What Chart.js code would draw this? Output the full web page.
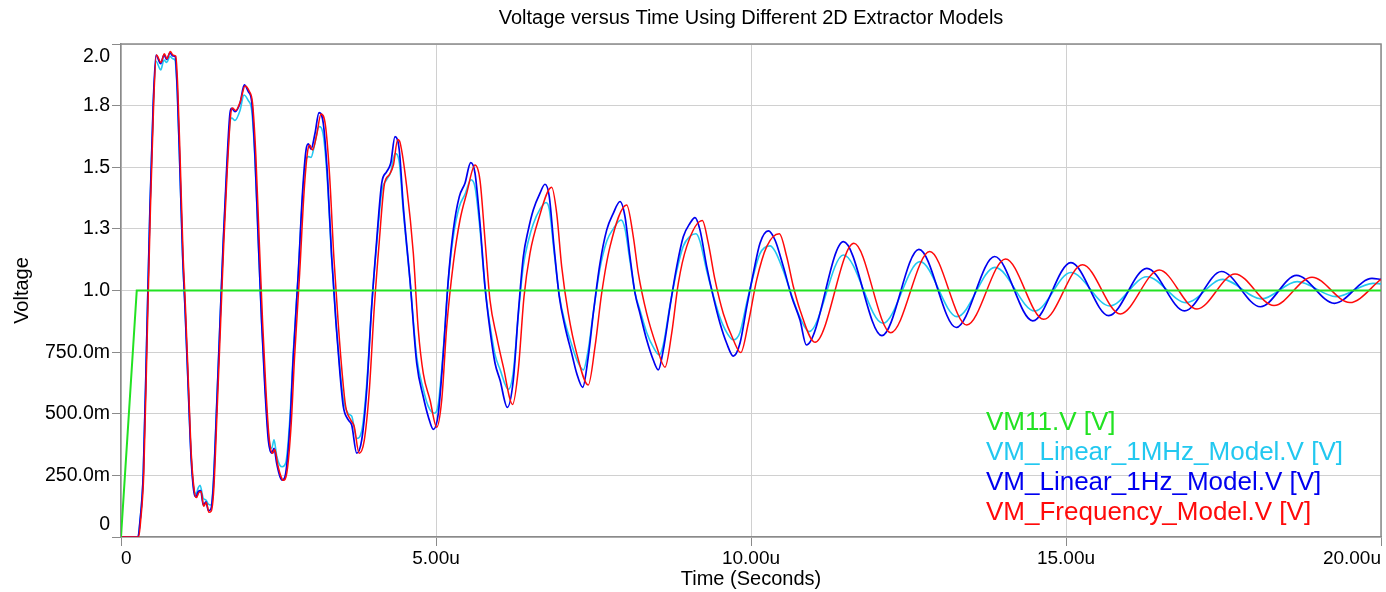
<!DOCTYPE html>
<html>
<head>
<meta charset="utf-8">
<title>Voltage versus Time Using Different 2D Extractor Models</title>
<script src="https://cdn.jsdelivr.net/npm/chart.js@4.4.1/dist/chart.umd.min.js"></script>
<style>
  html, body { margin: 0; padding: 0; background: #fff; }
  #wrap { width: 1386px; height: 592px; }
</style>
</head>
<body>
<div id="wrap"><canvas id="chart" width="1386" height="592"></canvas></div>
<script>
/* ===============================
   DATA  (time in microseconds, voltage in V)
================================ */

const seriesNames = [
  "VM11.V [V]",
  "VM_Linear_1MHz_Model.V [V]",
  "VM_Linear_1Hz_Model.V [V]",
  "VM_Frequency_Model.V [V]"
];

const xTicks = [0, 5, 10, 15, 20];
const xTickLabels = ["0", "5.00u", "10.00u", "15.00u", "20.00u"];
const yTicks = [0, 0.25, 0.5, 0.75, 1.0, 1.25, 1.5, 1.75, 2.0];
const yTickLabels = ["0", "250.0m", "500.0m", "750.0m", "1.0", "1.3", "1.5", "1.8", "2.0"];

// VM11 source step
const tSource = [0, 0.25, 20];
const vSource = [0, 1.0, 1.0];

// Linear 1Hz model
const tLin1Hz = [
  0, 0.27, 0.30, 0.354, 0.408, 0.46, 0.513, 0.556, 0.63, 0.683, 0.725, 0.778, 0.821, 0.857,
  0.894, 0.937, 0.979, 1.016, 1.068, 1.111, 1.159, 1.19, 1.227, 1.265, 1.306, 1.349, 1.386, 1.424,
  1.465, 1.519, 1.571, 1.624, 1.678, 1.73, 1.757, 1.81, 1.889, 1.957, 2.021, 2.075, 2.127, 2.179,
  2.233, 2.286, 2.338, 2.392, 2.429, 2.471, 2.524, 2.56, 2.614, 2.683, 2.735, 2.814, 2.884, 2.937,
  2.973, 3.016, 3.079, 3.143, 3.211, 3.275, 3.344, 3.413, 3.476, 3.529, 3.608, 3.662, 3.741, 3.821,
  3.9, 3.979, 4.059, 4.138, 4.217, 4.281, 4.349, 4.417, 4.481, 4.587, 4.694, 4.798, 4.878, 4.957,
  5.037, 5.116, 5.195, 5.275, 5.37, 5.46, 5.551, 5.619, 5.698, 5.778, 5.857, 5.937, 6.016, 6.132,
  6.227, 6.306, 6.386, 6.465, 6.544, 6.651, 6.73, 6.798, 6.873, 6.957, 7.048, 7.154, 7.233, 7.329,
  7.417, 7.497, 7.603, 7.71, 7.814, 7.921, 8.0, 8.079, 8.159, 8.238, 8.344, 8.449, 8.529, 8.608,
  8.714, 8.821, 8.925, 9.032, 9.111, 9.19, 9.297, 9.401, 9.508, 9.614, 9.719, 9.825, 9.932, 10.037,
  10.143, 10.275, 10.381, 10.513, 10.646, 10.778, 10.879, 11.467, 12.078, 12.665, 13.257, 13.868,
  14.473, 15.078, 15.678, 16.283, 16.881, 17.468, 18.086, 18.659, 19.259, 19.857, 20
];
const vLin1Hz = [
  0, 0, 0.06, 0.26, 0.80, 1.34, 1.77, 1.955, 1.92, 1.956, 1.938, 1.965, 1.952, 1.95,
  1.81, 1.48, 1.14, 0.93, 0.60, 0.33, 0.18, 0.163, 0.184, 0.188, 0.13, 0.143, 0.107, 0.112,
  0.204, 0.53, 0.867, 1.205, 1.50, 1.72, 1.739, 1.726, 1.76, 1.834, 1.807, 1.766, 1.543, 1.205,
  0.867, 0.596, 0.394, 0.34, 0.36, 0.299, 0.245, 0.231, 0.258, 0.461, 0.732, 1.07, 1.408, 1.57,
  1.595, 1.573, 1.637, 1.722, 1.678, 1.476, 1.137, 0.867, 0.663, 0.529, 0.475, 0.454, 0.34, 0.394,
  0.596, 0.934, 1.205, 1.435, 1.482, 1.516, 1.624, 1.57, 1.34, 1.043, 0.705, 0.569, 0.488, 0.437,
  0.502, 0.745, 1.043, 1.246, 1.381, 1.435, 1.519, 1.476, 1.273, 1.016, 0.84, 0.705, 0.637, 0.526,
  0.637, 0.907, 1.137, 1.246, 1.327, 1.395, 1.431, 1.381, 1.178, 0.975, 0.853, 0.745, 0.664, 0.607,
  0.732, 0.907, 1.11, 1.246, 1.313, 1.361, 1.30, 1.137, 0.989, 0.907, 0.80, 0.718, 0.678, 0.759,
  0.934, 1.097, 1.218, 1.273, 1.296, 1.246, 1.097, 0.975, 0.867, 0.786, 0.734, 0.786, 0.934, 1.07,
  1.192, 1.242, 1.205, 1.097, 0.975, 0.88, 0.779, 1.198, 0.817, 1.167, 0.85, 1.138,
  0.877, 1.113, 0.898, 1.09, 0.917, 1.077, 0.934, 1.061, 0.948, 1.049, 1.045
];

// Linear 1MHz model
const tLin1MHz = [
  0, 0.27, 0.30, 0.354, 0.408, 0.46, 0.513, 0.556, 0.63, 0.683, 0.725, 0.778, 0.821, 0.857,
  0.894, 0.937, 0.979, 1.016, 1.068, 1.111, 1.159, 1.19, 1.227, 1.255, 1.306, 1.349, 1.386, 1.424,
  1.465, 1.519, 1.571, 1.624, 1.678, 1.73, 1.757, 1.81, 1.889, 1.952, 2.021, 2.075, 2.127, 2.179,
  2.233, 2.286, 2.338, 2.392, 2.429, 2.471, 2.524, 2.56, 2.614, 2.683, 2.735, 2.814, 2.884, 2.937,
  2.973, 3.016, 3.079, 3.143, 3.211, 3.275, 3.344, 3.413, 3.476, 3.529, 3.608, 3.662, 3.741, 3.821,
  3.9, 3.979, 4.059, 4.138, 4.217, 4.281, 4.349, 4.417, 4.481, 4.587, 4.694, 4.798, 4.878, 4.973,
  5.037, 5.116, 5.195, 5.275, 5.37, 5.46, 5.556, 5.619, 5.698, 5.778, 5.857, 5.937, 6.016, 6.148,
  6.227, 6.306, 6.386, 6.465, 6.544, 6.651, 6.746, 6.798, 6.873, 6.957, 7.048, 7.154, 7.233, 7.338,
  7.417, 7.497, 7.603, 7.71, 7.814, 7.937, 8.0, 8.079, 8.159, 8.238, 8.344, 8.449, 8.544, 8.608,
  8.714, 8.821, 8.925, 9.032, 9.127, 9.19, 9.297, 9.401, 9.508, 9.614, 9.719, 9.825, 9.932, 10.037,
  10.143, 10.302, 10.381, 10.513, 10.646, 10.778, 10.921, 11.467, 12.095, 12.683, 13.27, 13.873,
  14.505, 15.078, 15.695, 16.283, 16.911, 17.486, 18.103, 18.671, 19.289, 19.873, 20
];
const vLin1MHz = [
  0, 0, 0.06, 0.26, 0.80, 1.34, 1.76, 1.93, 1.895, 1.935, 1.925, 1.95, 1.94, 1.935,
  1.80, 1.47, 1.13, 0.93, 0.60, 0.34, 0.19, 0.175, 0.20, 0.21, 0.157, 0.15, 0.134, 0.13,
  0.22, 0.54, 0.87, 1.20, 1.48, 1.68, 1.70, 1.69, 1.73, 1.793, 1.77, 1.73, 1.53, 1.20,
  0.87, 0.61, 0.42, 0.36, 0.394, 0.33, 0.29, 0.285, 0.30, 0.49, 0.75, 1.07, 1.39, 1.53,
  1.543, 1.54, 1.60, 1.665, 1.63, 1.45, 1.13, 0.87, 0.68, 0.56, 0.50, 0.49, 0.40, 0.43,
  0.62, 0.94, 1.19, 1.40, 1.45, 1.48, 1.556, 1.52, 1.32, 1.04, 0.73, 0.60, 0.53, 0.502,
  0.54, 0.76, 1.04, 1.22, 1.34, 1.39, 1.449, 1.42, 1.25, 1.01, 0.86, 0.74, 0.68, 0.599,
  0.67, 0.90, 1.10, 1.20, 1.27, 1.33, 1.357, 1.33, 1.16, 0.98, 0.87, 0.78, 0.72, 0.678,
  0.76, 0.91, 1.09, 1.20, 1.25, 1.286, 1.25, 1.12, 0.99, 0.92, 0.83, 0.77, 0.739, 0.78,
  0.94, 1.08, 1.18, 1.22, 1.23, 1.20, 1.08, 0.98, 0.89, 0.83, 0.80, 0.83, 0.95, 1.06,
  1.15, 1.181, 1.16, 1.08, 0.98, 0.89, 0.833, 1.144, 0.867, 1.117, 0.894, 1.094,
  0.917, 1.073, 0.937, 1.056, 0.951, 1.045, 0.966, 1.036, 0.975, 1.029, 1.027
];

// Frequency model
const tFreq = [
  0, 0.28, 0.31, 0.362, 0.415, 0.468, 0.52, 0.562, 0.635, 0.688, 0.73, 0.783, 0.826, 0.87,
  0.90, 0.943, 0.985, 1.022, 1.074, 1.117, 1.165, 1.198, 1.235, 1.272, 1.312, 1.355, 1.395, 1.432,
  1.472, 1.527, 1.58, 1.633, 1.687, 1.74, 1.768, 1.82, 1.898, 1.968, 2.033, 2.088, 2.14, 2.193,
  2.248, 2.3, 2.352, 2.406, 2.443, 2.486, 2.54, 2.577, 2.632, 2.702, 2.755, 2.836, 2.906, 2.96,
  2.996, 3.04, 3.105, 3.175, 3.245, 3.31, 3.38, 3.45, 3.512, 3.566, 3.646, 3.70, 3.78, 3.86,
  3.94, 4.02, 4.10, 4.18, 4.26, 4.325, 4.392, 4.43, 4.535, 4.64, 4.719, 4.798, 4.905, 5.011,
  5.091, 5.17, 5.275, 5.381, 5.487, 5.619, 5.698, 5.778, 5.857, 5.963, 6.068, 6.216,
  6.306, 6.397, 6.492, 6.624, 6.836, 6.916, 6.995, 7.1, 7.233, 7.417,
  7.524, 7.63, 7.762, 8.027, 8.132, 8.211, 8.344, 8.503, 8.635,
  8.741, 8.846, 8.979, 9.227, 9.322, 9.429, 9.56, 9.719, 9.837,
  9.957, 10.09, 10.249, 10.449, 10.567, 10.672, 10.778, 11.016, 11.633, 12.219, 12.837, 13.424,
  14.041, 14.646, 15.263, 15.862, 16.479, 17.079, 17.683, 18.302, 18.905, 19.505, 20
];
const vFreq = [
  0, 0, 0.06, 0.26, 0.80, 1.34, 1.77, 1.955, 1.925, 1.96, 1.94, 1.97, 1.955, 1.95,
  1.83, 1.50, 1.15, 0.94, 0.60, 0.33, 0.185, 0.16, 0.18, 0.185, 0.125, 0.14, 0.10, 0.105,
  0.19, 0.52, 0.86, 1.20, 1.49, 1.71, 1.74, 1.73, 1.77, 1.83, 1.81, 1.76, 1.55, 1.21,
  0.87, 0.60, 0.40, 0.34, 0.355, 0.295, 0.245, 0.23, 0.26, 0.46, 0.73, 1.07, 1.40, 1.56,
  1.59, 1.57, 1.63, 1.716, 1.67, 1.47, 1.13, 0.86, 0.66, 0.53, 0.475, 0.45, 0.34, 0.39,
  0.59, 0.93, 1.20, 1.43, 1.47, 1.51, 1.613, 1.60, 1.421, 1.151, 0.84, 0.664, 0.556, 0.445,
  0.556, 0.853, 1.11, 1.286, 1.394, 1.509, 1.448, 1.205, 0.961, 0.813, 0.691, 0.538,
  0.678, 0.975, 1.151, 1.286, 1.419, 1.313, 1.097, 0.907, 0.745, 0.617,
  0.772, 0.989, 1.178, 1.347, 1.218, 1.07, 0.907, 0.772, 0.689,
  0.826, 1.029, 1.178, 1.284, 1.192, 1.043, 0.907, 0.80, 0.748,
  0.867, 1.043, 1.178, 1.23, 1.137, 1.016, 0.921, 0.79, 1.192, 0.829, 1.158, 0.86,
  1.128, 0.883, 1.104, 0.905, 1.083, 0.925, 1.067, 0.939, 1.054, 0.951, 1.045
];

const seriesColors = ["#22e222", "#22c8f0", "#0000f0", "#ff0a0a"];

/* ===============================
   HELPERS
================================ */

function toPoints(ts, vs) {
  return ts.map((t, i) => ({ x: t, y: vs[i] }));
}

const FONT = "'Liberation Sans', Arial, sans-serif";
Chart.defaults.font.family = FONT;
Chart.defaults.color = "#000";

// plot frame on top and right side
const framePlugin = {
  id: "frame",
  beforeDatasetsDraw(chart) {
    const { ctx, chartArea: a } = chart;
    ctx.save();
    ctx.strokeStyle = "#8a8a8a";
    ctx.lineWidth = 1.5;
    ctx.beginPath();
    ctx.moveTo(a.left, a.top);
    ctx.lineTo(a.right, a.top);
    ctx.lineTo(a.right, a.bottom);
    ctx.stroke();
    ctx.restore();
  }
};

// coloured text legend inside the plot, bottom right
const textLegend = {
  id: "textLegend",
  afterDatasetsDraw(chart) {
    const { ctx, chartArea: a } = chart;
    ctx.save();
    ctx.font = "26px " + FONT;
    ctx.textAlign = "left";
    ctx.textBaseline = "middle";
    seriesNames.forEach((name, i) => {
      ctx.fillStyle = seriesColors[i];
      ctx.fillText(name, a.left + 865, a.bottom - 114 + i * 30);
    });
    ctx.restore();
  }
};

/* ===============================
   CHART
================================ */

const lineStyle = (label, color, data, order, width, smooth) => ({
  label,
  data,
  borderColor: color,
  backgroundColor: color,
  borderWidth: width,
  pointRadius: 0,
  fill: false,
  tension: 0,
  cubicInterpolationMode: smooth ? "monotone" : "default",
  order
});

new Chart(document.getElementById("chart"), {
  type: "line",
  data: {
    datasets: [
      lineStyle(seriesNames[0], seriesColors[0], toPoints(tSource, vSource), 0, 2, false),
      lineStyle(seriesNames[1], seriesColors[1], toPoints(tLin1MHz, vLin1MHz), 3, 1.6, true),
      lineStyle(seriesNames[2], seriesColors[2], toPoints(tLin1Hz, vLin1Hz), 2, 1.7, true),
      lineStyle(seriesNames[3], seriesColors[3], toPoints(tFreq, vFreq), 1, 1.5, true)
    ]
  },
  options: {
    responsive: false,
    devicePixelRatio: 1,
    animation: false,
    layout: { padding: { left: 0, right: 5, top: 0, bottom: 0 } },
    plugins: {
      legend: { display: false },
      tooltip: { enabled: false },
      title: {
        display: true,
        fullSize: false,
        text: "Voltage versus Time Using Different 2D Extractor Models",
        font: { size: 20, weight: "normal" },
        color: "#000",
        padding: { top: 6, bottom: 14 }
      }
    },
    scales: {
      x: {
        type: "linear",
        min: 0,
        max: 20,
        afterBuildTicks: scale => { scale.ticks = xTicks.map(v => ({ value: v })); },
        afterFit: scale => { scale.height = 55; },
        ticks: {
          callback: (v, i) => xTickLabels[i],
          font: { size: 19 },
          color: "#000",
          padding: 1,
          align: "inner",
          maxRotation: 0,
          autoSkip: false
        },
        grid: { color: "#d0d0d0", tickColor: "#8a8a8a", tickLength: 9, lineWidth: 1 },
        border: { color: "#8a8a8a", width: 1.5 },
        title: {
          display: true,
          text: "Time (Seconds)",
          font: { size: 20 },
          color: "#000",
          padding: { top: 0, bottom: 1 }
        }
      },
      y: {
        min: 0,
        max: 2,
        afterBuildTicks: scale => { scale.ticks = yTicks.map(v => ({ value: v })); },
        afterFit: scale => { scale.width = 121; },
        ticks: {
          callback: (v, i) => {
            const lab = yTickLabels[i];
            if (i === 0) return [lab, ""];
            if (i === yTickLabels.length - 1) return ["", lab];
            return lab;
          },
          font: { size: 19.5, lineHeight: 1.25 },
          color: "#000",
          padding: 2,
          autoSkip: false
        },
        grid: { color: "#d0d0d0", tickColor: "#8a8a8a", tickLength: 9, lineWidth: 1 },
        border: { color: "#8a8a8a", width: 1.5 },
        title: {
          display: true,
          text: "Voltage",
          font: { size: 20 },
          color: "#000",
          padding: { top: 10, bottom: 0 }
        }
      }
    }
  },
  plugins: [framePlugin, textLegend]
});
</script>
</body>
</html>
